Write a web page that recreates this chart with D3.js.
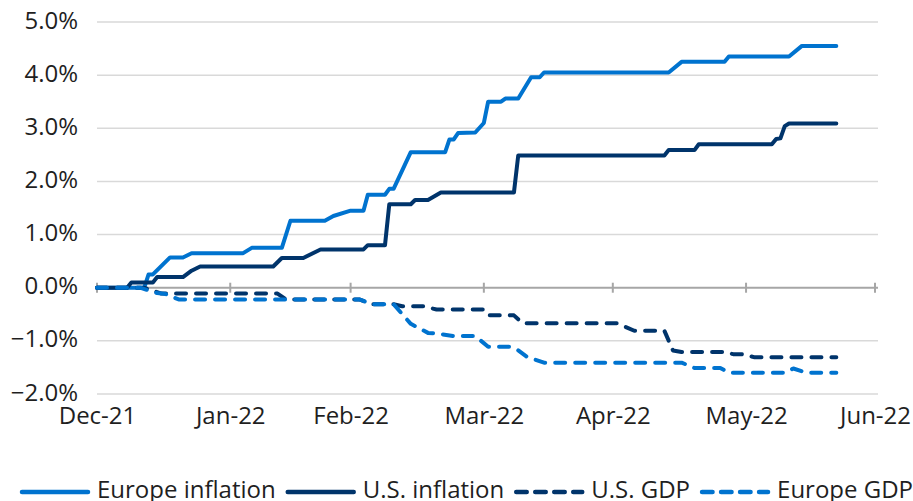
<!DOCTYPE html>
<html>
<head>
<meta charset="utf-8">
<script src="https://d3js.org/d3.v7.min.js"></script>
<style>
  body { margin: 0; background: #fff; }
  svg { display: block; }
  .tick text, .legend text {
    font-family: "Open Sans", sans-serif;
    font-size: 24px;
    fill: #1f1f1f;
  }
</style>
</head>
<body>
<div id="chart"></div>
<script>
// series (% change, daily)
const europeInflation = [
  ["2021-12-31", 0], ["2022-01-11", 0], ["2022-01-12", 0.25], ["2022-01-13", 0.25],
  ["2022-01-17", 0.57], ["2022-01-20", 0.57], ["2022-01-22", 0.65], ["2022-02-03", 0.65],
  ["2022-02-05", 0.75], ["2022-02-12", 0.75], ["2022-02-14", 1.26], ["2022-02-22", 1.26],
  ["2022-02-24", 1.35], ["2022-02-28", 1.45], ["2022-03-03", 1.45], ["2022-03-04", 1.75],
  ["2022-03-08", 1.75], ["2022-03-09", 1.86], ["2022-03-10", 1.86], ["2022-03-14", 2.55],
  ["2022-03-22", 2.55], ["2022-03-23", 2.79], ["2022-03-24", 2.79], ["2022-03-25", 2.91],
  ["2022-03-29", 2.92], ["2022-03-31", 3.1], ["2022-04-01", 3.5], ["2022-04-04", 3.5],
  ["2022-04-05", 3.56], ["2022-04-08", 3.56], ["2022-04-11", 3.96], ["2022-04-13", 3.96],
  ["2022-04-14", 4.05], ["2022-05-13", 4.05], ["2022-05-16", 4.25], ["2022-05-26", 4.25],
  ["2022-05-27", 4.35], ["2022-06-10", 4.35], ["2022-06-13", 4.55], ["2022-06-21", 4.55]
];
const usInflation = [
  ["2021-12-31", 0], ["2022-01-07", 0], ["2022-01-08", 0.1], ["2022-01-13", 0.1],
  ["2022-01-14", 0.2], ["2022-01-20", 0.2], ["2022-01-22", 0.32], ["2022-01-24", 0.4],
  ["2022-02-10", 0.4], ["2022-02-12", 0.56], ["2022-02-17", 0.56], ["2022-02-21", 0.72],
  ["2022-03-03", 0.72], ["2022-03-04", 0.8], ["2022-03-08", 0.8], ["2022-03-09", 1.57],
  ["2022-03-14", 1.57], ["2022-03-15", 1.65], ["2022-03-18", 1.65], ["2022-03-21", 1.79],
  ["2022-04-07", 1.79], ["2022-04-08", 2.49], ["2022-05-12", 2.49], ["2022-05-13", 2.59],
  ["2022-05-19", 2.59], ["2022-05-20", 2.7], ["2022-06-06", 2.7], ["2022-06-07", 2.8],
  ["2022-06-08", 2.81], ["2022-06-09", 3.04], ["2022-06-10", 3.09], ["2022-06-21", 3.09]
];
const usGdp = [
  ["2021-12-31", 0], ["2022-01-11", 0], ["2022-01-15", -0.11], ["2022-02-11", -0.11],
  ["2022-02-13", -0.22], ["2022-03-02", -0.22], ["2022-03-05", -0.31], ["2022-03-10", -0.31],
  ["2022-03-12", -0.35], ["2022-03-17", -0.35], ["2022-03-20", -0.41], ["2022-03-31", -0.41],
  ["2022-04-01", -0.52], ["2022-04-07", -0.52], ["2022-04-09", -0.67], ["2022-05-01", -0.67],
  ["2022-05-05", -0.81], ["2022-05-12", -0.81], ["2022-05-14", -1.18], ["2022-05-16", -1.21],
  ["2022-05-26", -1.21], ["2022-05-28", -1.25], ["2022-05-30", -1.25], ["2022-06-02", -1.31],
  ["2022-06-21", -1.31]
];
const europeGdp = [
  ["2021-12-31", 0], ["2022-01-10", 0], ["2022-01-14", -0.1], ["2022-01-16", -0.12],
  ["2022-01-19", -0.22], ["2022-03-02", -0.22], ["2022-03-05", -0.31], ["2022-03-10", -0.31],
  ["2022-03-14", -0.68], ["2022-03-18", -0.85], ["2022-03-20", -0.86], ["2022-03-24", -0.91],
  ["2022-03-29", -0.91], ["2022-04-01", -1.11], ["2022-04-06", -1.11], ["2022-04-08", -1.18],
  ["2022-04-10", -1.3], ["2022-04-14", -1.41], ["2022-05-16", -1.41], ["2022-05-19", -1.51],
  ["2022-05-25", -1.51], ["2022-05-27", -1.6], ["2022-06-09", -1.6], ["2022-06-11", -1.52],
  ["2022-06-14", -1.6], ["2022-06-21", -1.6]
];

const seriesNames = ["Europe inflation", "U.S. inflation", "U.S. GDP", "Europe GDP"];
const seriesData = [europeInflation, usInflation, usGdp, europeGdp];
const seriesColors = ["#0073cf", "#00346b", "#00346b", "#0073cf"];
const seriesDashed = [false, false, true, true];

// month-end tick dates and y ticks
const xTicks = ["2021-12-31", "2022-01-31", "2022-02-28", "2022-03-31", "2022-04-30", "2022-05-31", "2022-06-30"];
const yTicks = [-2, -1, 0, 1, 2, 3, 4, 5];

const width = 913, height = 501;
const margin = { left: 97, right: 38, top: 22, bottom: 107 };
const parse = d3.timeParse("%Y-%m-%d");

const svg = d3.select("#chart").append("svg")
  .attr("width", width)
  .attr("height", height);

const x = d3.scaleTime()
  .domain([parse(xTicks[0]), parse(xTicks[xTicks.length - 1])])
  .range([margin.left, width - margin.right]);

const y = d3.scaleLinear()
  .domain([-2, 5])
  .range([height - margin.bottom, margin.top]);

// gridlines
svg.append("g")
  .selectAll("line")
  .data(yTicks.filter(d => d !== 0))
  .join("line")
  .attr("x1", x.range()[0])
  .attr("x2", x.range()[1] + 3)
  .attr("y1", d => y(d))
  .attr("y2", d => y(d))
  .attr("stroke", "#d9d9d9")
  .attr("stroke-width", 1.5);

// y axis labels (no line)
const yAxis = d3.axisLeft(y)
  .tickValues(yTicks)
  .tickSize(0)
  .tickPadding(19)
  .tickFormat(d => d3.format(".1f")(d) + "%");

svg.append("g")
  .attr("transform", `translate(${margin.left},0)`)
  .call(yAxis)
  .call(g => g.select(".domain").remove())
  .selectAll("text")
  .attr("dy", "0.25em");

// x axis sits on zero
svg.append("line")
  .attr("x1", x.range()[0])
  .attr("x2", x.range()[1] + 3)
  .attr("y1", y(0))
  .attr("y2", y(0))
  .attr("stroke", "#a6a6a6")
  .attr("stroke-width", 2);

svg.append("g")
  .selectAll("line")
  .data(xTicks.map(parse))
  .join("line")
  .attr("x1", d => x(d))
  .attr("x2", d => x(d))
  .attr("y1", y(0) - 5)
  .attr("y2", y(0) + 5)
  .attr("stroke", "#a6a6a6")
  .attr("stroke-width", 2);

// month labels along the bottom
const xAxis = d3.axisBottom(x)
  .tickValues(xTicks.map(parse))
  .tickSize(0)
  .tickPadding(0)
  .tickFormat(d3.timeFormat("%b-%y"));

svg.append("g")
  .attr("transform", `translate(0,${height - margin.bottom})`)
  .call(xAxis)
  .call(g => g.select(".domain").remove())
  .selectAll("text")
  .attr("dy", "1.24em");

// lines
const line = d3.line()
  .x(d => x(parse(d[0])))
  .y(d => y(d[1]));

seriesData.forEach((data, i) => {
  svg.append("path")
    .datum(data)
    .attr("fill", "none")
    .attr("stroke", seriesColors[i])
    .attr("stroke-width", 4)
    .attr("stroke-linejoin", "round")
    .attr("stroke-linecap", "round")
    .attr("stroke-dasharray", seriesDashed[i] ? "10,10" : null)
    .attr("d", line);
});

// legend
const legend = svg.append("g").attr("class", "legend");
let lx = 20;
const ly = 492;
seriesNames.forEach((name, i) => {
  legend.append("line")
    .attr("x1", lx + 2)
    .attr("x2", lx + 68)
    .attr("y1", ly)
    .attr("y2", ly)
    .attr("stroke", seriesColors[i])
    .attr("stroke-width", 4.5)
    .attr("stroke-linecap", "round")
    .attr("stroke-dasharray", seriesDashed[i] ? "10.5,8.5" : null);
  const t = legend.append("text")
    .attr("x", lx + 77)
    .attr("y", 498)
    .text(name);
  lx = lx + 77 + t.node().getComputedTextLength() + 10;
});
</script>
</body>
</html>
